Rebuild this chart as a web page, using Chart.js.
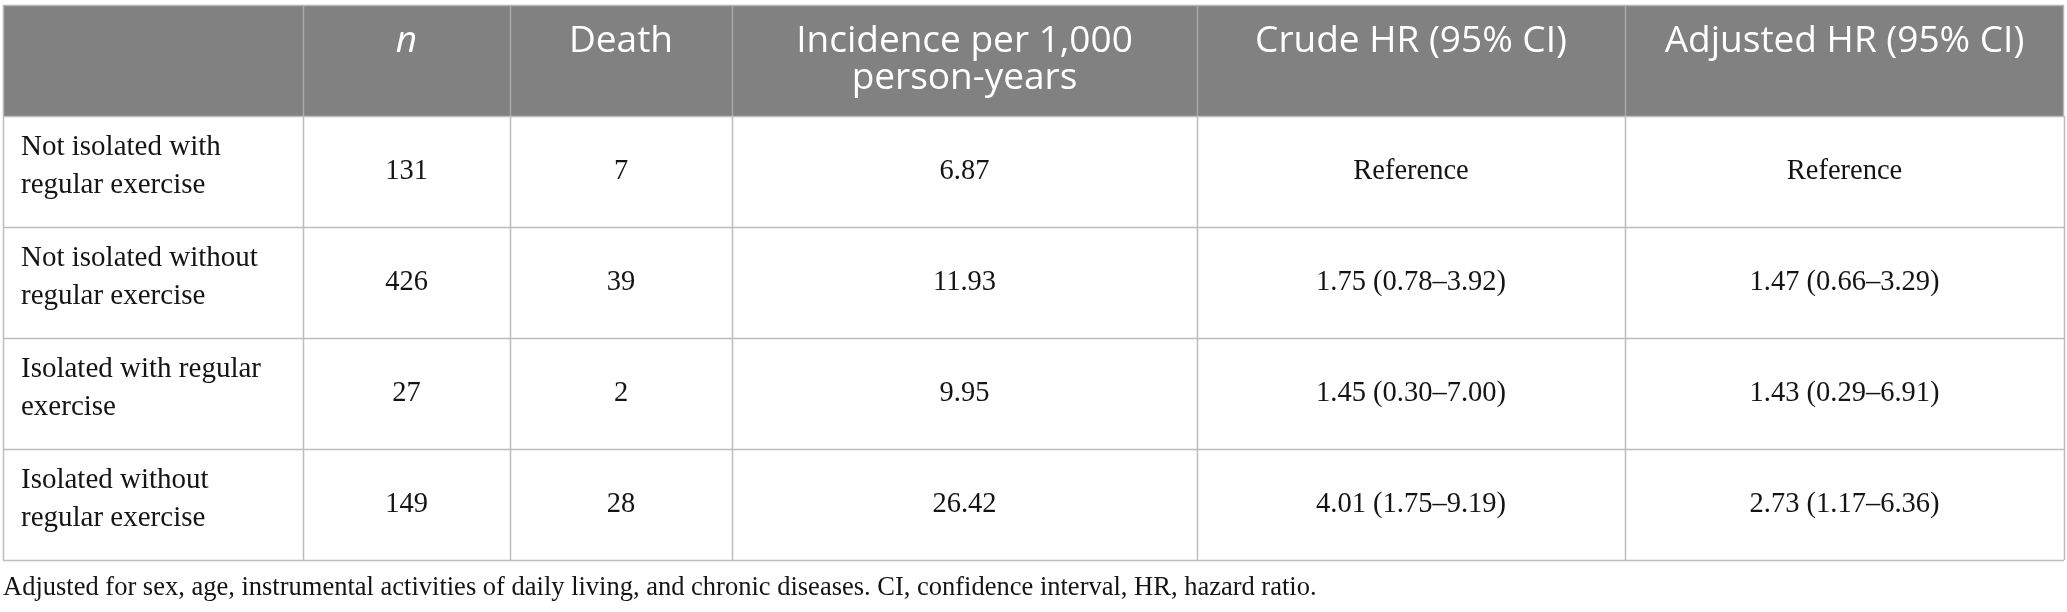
<!DOCTYPE html>
<html>
<head>
<meta charset="utf-8">
<script src="https://cdn.jsdelivr.net/npm/chart.js@4.4.1/dist/chart.umd.min.js"></script>
<style>
  html, body { margin: 0; padding: 0; background: #fff; }
  #wrap { width: 2067px; height: 612px; }
</style>
</head>
<body>
<div id="wrap"><canvas id="tbl" width="2067" height="612"></canvas></div>
<script>
// table contents
var headers = ['', 'n', 'Death', 'Incidence per 1,000\nperson-years', 'Crude HR (95% CI)', 'Adjusted HR (95% CI)'];
var groups = [
    'Not isolated with\nregular exercise',
    'Not isolated without\nregular exercise',
    'Isolated with regular\nexercise',
    'Isolated without\nregular exercise'
];
var nValues = [131, 426, 27, 149];
var deaths = [7, 39, 2, 28];
var incidence = [6.87, 11.93, 9.95, 26.42];
var crudeHR = ['Reference', '1.75 (0.78\u20133.92)', '1.45 (0.30\u20137.00)', '4.01 (1.75\u20139.19)'];
var adjustedHR = ['Reference', '1.47 (0.66\u20133.29)', '1.43 (0.29\u20136.91)', '2.73 (1.17\u20136.36)'];
var footnote = 'Adjusted for sex, age, instrumental activities of daily living, and chronic diseases. CI, confidence interval, HR, hazard ratio.';

// column edges on the x scale
var colEdges = [0, 300, 507, 729, 1194, 1622, 2061];

var headFont = '37px "Open Sans", "Noto Sans", sans-serif';
var headItalic = 'italic 37px "Open Sans", "Noto Sans", sans-serif';
var labelFont = '29px "Liberation Serif", "DejaVu Serif", serif';
var bodyFont = '28.5px "Liberation Serif", "DejaVu Serif", serif';
var noteFont = '26.5px "Liberation Serif", "DejaVu Serif", serif';

function cellText(row, col) {
    if (col === 0) return groups[row];
    if (col === 1) return String(nValues[row]);
    if (col === 2) return String(deaths[row]);
    if (col === 3) return incidence[row].toFixed(2);
    if (col === 4) return crudeHR[row];
    return adjustedHR[row];
}

var tablePlugin = {
    id: 'tablePlugin',
    afterDraw: function(chart) {
        var ctx = chart.ctx;
        var xs = chart.scales.x;
        var ys = chart.scales.y;
        var nRows = groups.length;
        var left = xs.getPixelForValue(colEdges[0]);
        var right = xs.getPixelForValue(colEdges[colEdges.length - 1]);
        var top = ys.getPixelForValue(0);
        var headBottom = ys.getPixelForValue(1);
        var bottom = ys.getPixelForValue(nRows + 1);

        ctx.save();
        // header band
        ctx.fillStyle = '#808180';
        ctx.fillRect(left, top, right - left, headBottom - top);

        // header separators
        ctx.strokeStyle = '#a9aaa9';
        ctx.lineWidth = 1.5;
        for (var c = 1; c < colEdges.length - 1; c++) {
            var x = Math.round(xs.getPixelForValue(colEdges[c])) + 0.5;
            ctx.beginPath();
            ctx.moveTo(x, top);
            ctx.lineTo(x, headBottom);
            ctx.stroke();
        }

        // body grid
        ctx.strokeStyle = '#bdbdbd';
        ctx.lineWidth = 1.5;
        for (var r = 1; r <= nRows + 1; r++) {
            var y = Math.round(ys.getPixelForValue(r)) + 0.5;
            ctx.beginPath();
            ctx.moveTo(left, y);
            ctx.lineTo(right, y);
            ctx.stroke();
        }
        for (var c2 = 0; c2 < colEdges.length; c2++) {
            var x2 = Math.round(xs.getPixelForValue(colEdges[c2])) + 0.5;
            ctx.beginPath();
            ctx.moveTo(x2, headBottom);
            ctx.lineTo(x2, bottom);
            ctx.stroke();
        }
        // outer border of header
        ctx.strokeStyle = '#b5b5b5';
        ctx.beginPath();
        ctx.moveTo(left, Math.round(top) + 0.5);
        ctx.lineTo(right, Math.round(top) + 0.5);
        ctx.moveTo(Math.round(left) + 0.5, top);
        ctx.lineTo(Math.round(left) + 0.5, headBottom);
        ctx.moveTo(Math.round(right) - 0.5, top);
        ctx.lineTo(Math.round(right) - 0.5, headBottom);
        ctx.stroke();

        // header text
        ctx.fillStyle = '#ffffff';
        ctx.textAlign = 'center';
        ctx.textBaseline = 'middle';
        for (var h = 1; h < headers.length; h++) {
            var cx = (xs.getPixelForValue(colEdges[h]) + xs.getPixelForValue(colEdges[h + 1])) / 2;
            ctx.font = h === 1 ? headItalic : headFont;
            var lines = headers[h].split('\n');
            for (var k = 0; k < lines.length; k++) {
                ctx.fillText(lines[k], cx, top + 36 + k * 37);
            }
        }

        // body text
        ctx.fillStyle = '#141414';
        for (var row = 0; row < nRows; row++) {
            var cy = (ys.getPixelForValue(row + 1) + ys.getPixelForValue(row + 2)) / 2;
            for (var col = 0; col < headers.length; col++) {
                var txt = cellText(row, col).split('\n');
                var x0 = xs.getPixelForValue(colEdges[col]);
                var x1 = xs.getPixelForValue(colEdges[col + 1]);
                var tx, ty0;
                if (col === 0) {
                    ctx.textAlign = 'left';
                    ctx.font = labelFont;
                    tx = x0 + 18;
                    ty0 = cy - 5 - (txt.length - 1) * 38 / 2;
                } else {
                    ctx.textAlign = 'center';
                    ctx.font = bodyFont;
                    tx = (x0 + x1) / 2;
                    ty0 = cy;
                }
                for (var t = 0; t < txt.length; t++) {
                    ctx.fillText(txt[t], tx, ty0 + t * 38);
                }
            }
        }

        // footnote
        ctx.textAlign = 'left';
        ctx.font = noteFont;
        ctx.fillStyle = '#141414';
        ctx.fillText(footnote, left, bottom + 28);
        ctx.restore();
    }
};

var ctxTbl = document.getElementById('tbl').getContext('2d');
var tableChart = new Chart(ctxTbl, {
    type: 'scatter',
    data: { datasets: [] },
    options: {
        responsive: false,
        animation: false,
        devicePixelRatio: 1,
        layout: { padding: { left: 3, right: 3, top: 5, bottom: 52 } },
        plugins: { legend: { display: false }, tooltip: { enabled: false } },
        scales: {
            x: { type: 'linear', min: colEdges[0], max: colEdges[colEdges.length - 1], display: false },
            y: { type: 'linear', min: 0, max: groups.length + 1, reverse: true, display: false }
        }
    },
    plugins: [tablePlugin]
});
</script>
</body>
</html>
